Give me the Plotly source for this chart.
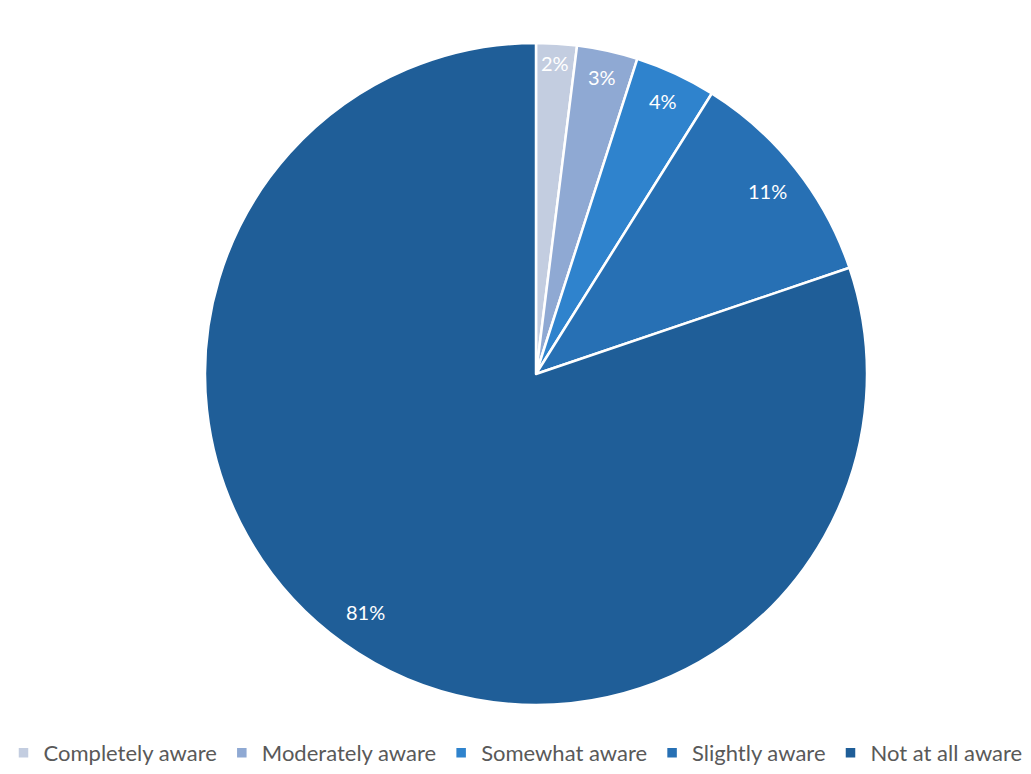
import math
import plotly.graph_objects as go

labels = ["Completely aware", "Moderately aware", "Somewhat aware", "Slightly aware", "Not at all aware"]
values = [2, 3, 4, 11, 81]
colors = ["#c3cde0", "#8fa9d3", "#2f83cd", "#2770b4", "#1f5e98"]
# radial position of each data label as a fraction of the radius (style)
label_radius = [0.94, 0.92, 0.91, 0.89, 0.885]

W, H = 1031, 774
dom_x = [205 / W, 867 / W]
dom_y = [1 - 705 / H, 1 - 43 / H]

fig = go.Figure(go.Pie(
    labels=labels,
    values=values,
    sort=False,
    direction="clockwise",
    rotation=0,
    marker=dict(colors=colors, line=dict(color="white", width=2.5)),
    textinfo="none",
    domain=dict(x=dom_x, y=dom_y),
    hoverinfo="label+value",
))

# data labels placed along each slice's bisector
cx = (dom_x[0] + dom_x[1]) / 2
cy = (dom_y[0] + dom_y[1]) / 2
r_px = min((dom_x[1] - dom_x[0]) * W, (dom_y[1] - dom_y[0]) * H) / 2
total = sum(values)
cum = 0
for v, f in zip(values, label_radius):
    mid = (cum + v / 2) / total * 2 * math.pi
    cum += v
    rr = f * r_px
    fig.add_annotation(
        x=cx + rr * math.sin(mid) / W,
        y=cy + rr * math.cos(mid) / H,
        xref="paper", yref="paper",
        xanchor="center", yanchor="middle",
        text=f"{v}%", showarrow=False,
        font=dict(color="white", size=20, family="Lato, sans-serif"),
    )

fig.update_layout(
    width=W, height=H,
    margin=dict(l=0, r=0, t=0, b=0),
    paper_bgcolor="white",
    plot_bgcolor="white",
    showlegend=True,
    legend=dict(orientation="h", x=0.5, xanchor="center", y=0.0, yanchor="bottom",
                font=dict(size=22, color="#595959", family="Lato, sans-serif"),
                itemwidth=30, traceorder="normal"),
)

fig.write_html("out.html")
